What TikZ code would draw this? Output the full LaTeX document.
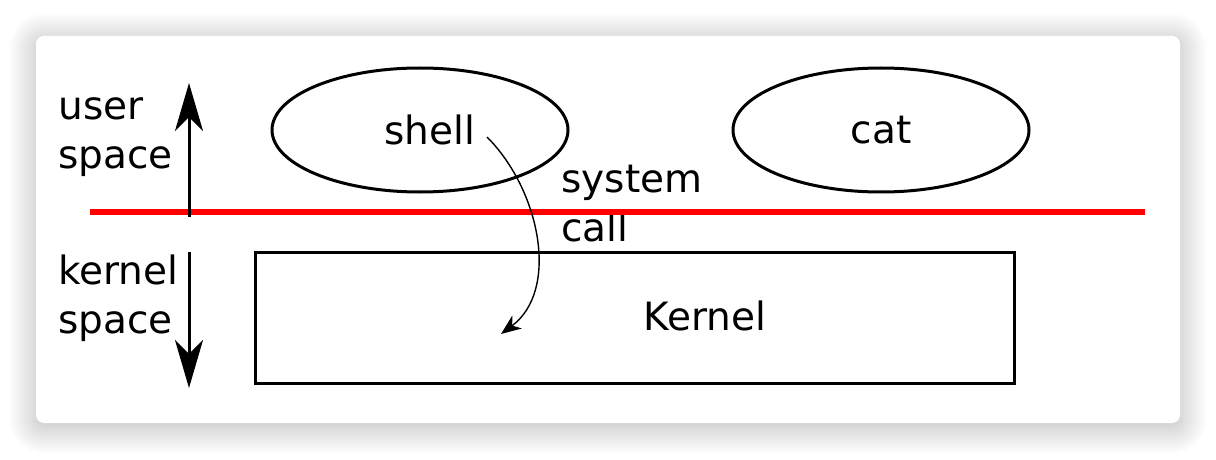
\documentclass[tikz,border=0pt]{standalone}
\usepackage{fontspec}
\setmainfont{DejaVu Sans}
\usetikzlibrary{calc, positioning, arrows.meta, shapes.geometric, shadows.blur}

\begin{document}
\begin{tikzpicture}[x=0.5pt, y=-0.5pt,
  every node/.append style={font=\fontsize{19.5}{24.5}\selectfont},
  card/.style={rectangle, fill=white, rounded corners=4pt,
    minimum width=572pt, minimum height=193.5pt,
    blur shadow={shadow xshift=0pt, shadow yshift=-2pt, shadow blur steps=40,
      shadow blur radius=14pt, shadow opacity=30}},
  process/.style={ellipse, draw, line width=1.5pt, inner sep=0pt,
    minimum width=148pt, minimum height=62pt},
  kernel box/.style={rectangle, draw, line width=1.5pt,
    minimum width=379.5pt, minimum height=65.5pt},
  side label/.style={align=left, anchor=north west, inner sep=0pt},
  space arrow/.style={line width=1.5pt,
    -{Stealth[length=24pt, width=14pt, inset=7pt]}},
  call arrow/.style={line width=0.7pt,
    -{Stealth[length=10pt, width=8pt, inset=3pt]}},
  boundary/.style={red, line width=2.6pt}]

  \useasboundingbox (0,0) rectangle (1216,460);

  % white card with soft shadow
  \node [card] (bg) at (608,229.5) {};

  % user processes and the kernel
  \node [process] (shell) at (420,130) {\hspace*{10pt}shell};
  \node [process] (cat) at (881,130) {cat};
  \node [kernel box] (kern) at (634.5,317.5) {};
  \node (kernlbl) at (705,316) {Kernel};

  % side labels
  \node [side label] (user) at (58,97) {user\\space};
  \node [side label] (kspace) at (58,254) {kernel\\space};
  \node [side label] (sys) at (561,165) {system\\call};

  % boundary between user and kernel space
  \coordinate (bd-l) at (90,212);
  \coordinate (bd-r) at (1145,212);
  \draw [boundary] (bd-l) -- (bd-r);

  % direction arrows
  \coordinate (up-s) at (189,217);
  \coordinate (up-e) at (189,83);
  \coordinate (dn-s) at (189,252);
  \coordinate (dn-e) at (189,388);
  \draw [space arrow] (up-s) -- (up-e);
  \draw [space arrow] (dn-s) -- (dn-e);

  % the system call itself
  \coordinate (call-s) at (487,137);
  \coordinate (call-e) at (501,334);
  \draw [call arrow] (call-s) .. controls (540,190) and (560,290) .. (call-e);
\end{tikzpicture}
\end{document}
